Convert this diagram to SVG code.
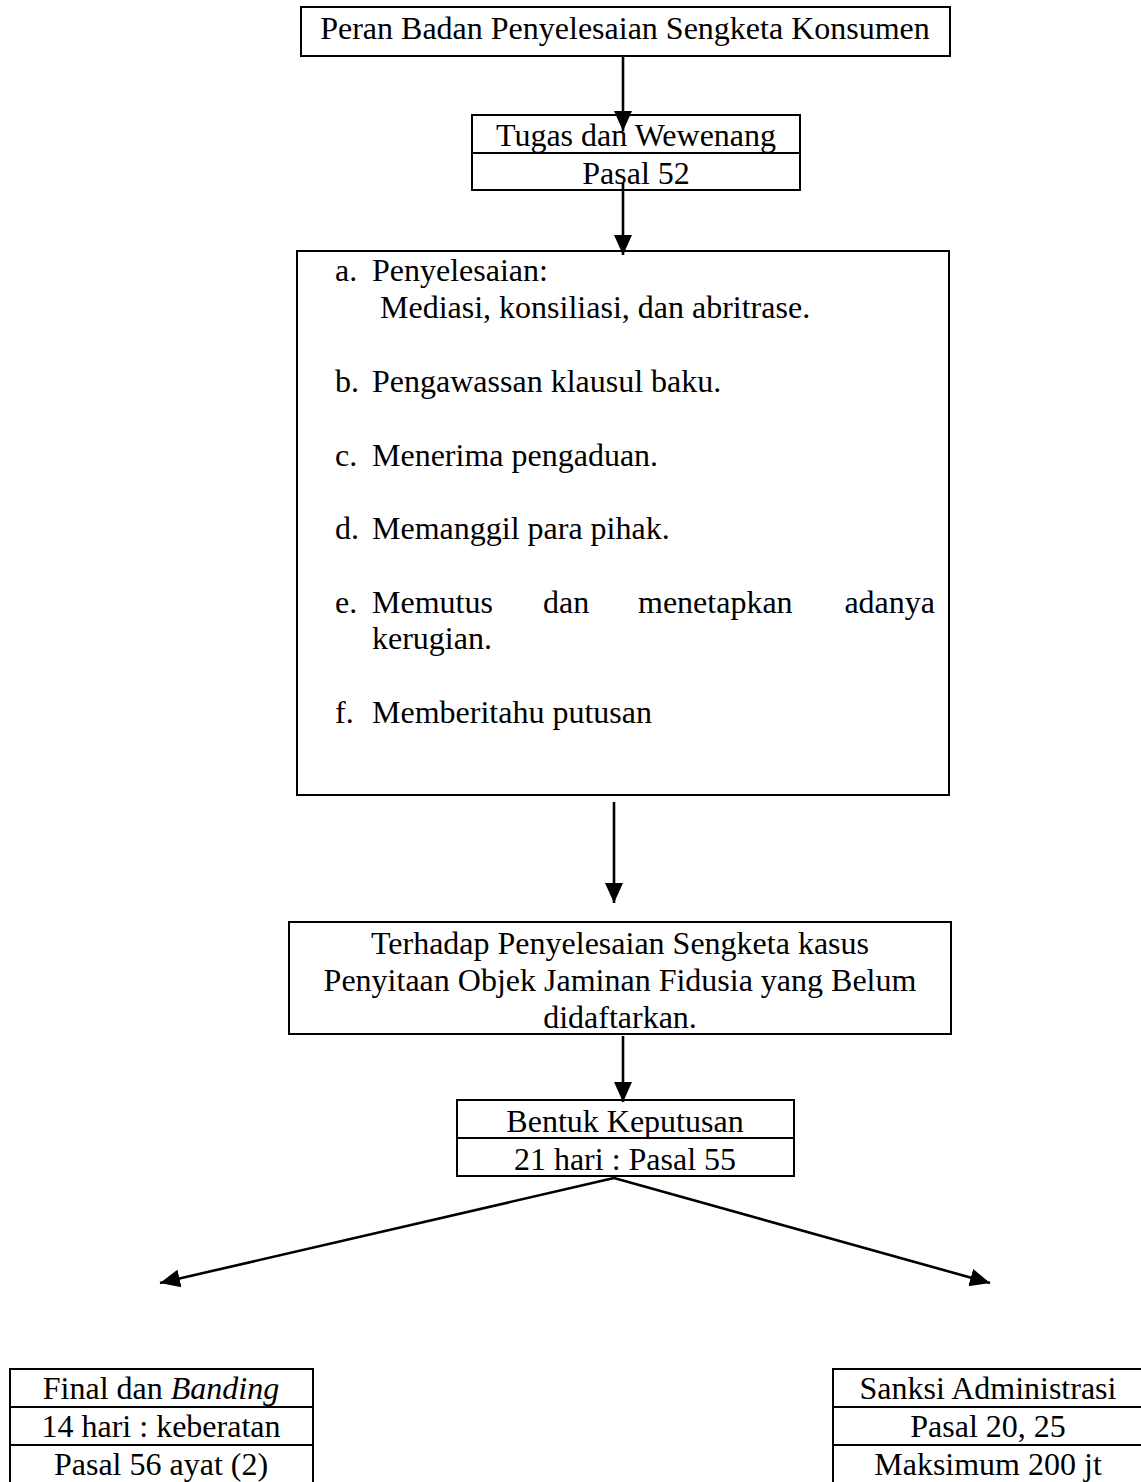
<svg xmlns="http://www.w3.org/2000/svg" width="1141" height="1482" viewBox="0 0 1141 1482">
<style>
.box{fill:#fff;stroke:#000;stroke-width:2}
.div{stroke:#000;stroke-width:2}
.t{font-family:"Liberation Serif","Times New Roman",serif;font-size:32px;fill:#000}
.c{text-anchor:middle}
.con{stroke:#000;stroke-width:2.6;fill:none}
</style>
<defs>
<marker id="ah" markerUnits="userSpaceOnUse" markerWidth="24" markerHeight="22" refX="20" refY="10" orient="auto">
<path d="M0,1 L20,10 L0,19 Z" fill="#000"/>
</marker>
</defs>
<rect width="1141" height="1482" fill="#fff"/>
<g id="n-peran">
<rect class="box" x="301" y="7" width="649" height="49"/>
<text class="t c" x="625" y="39">Peran Badan Penyelesaian Sengketa Konsumen</text>
</g>
<g id="n-tugas">
<rect class="box" x="472" y="115" width="328" height="75"/>
<line class="div" x1="472" y1="153" x2="800" y2="153"/>
<text class="t c" x="636" y="146">Tugas dan Wewenang</text>
<text class="t c" x="636" y="184">Pasal 52</text>
</g>
<g id="n-list">
<rect class="box" x="297" y="251" width="652" height="544"/>
<text class="t" x="335" y="281">a.</text>
<text class="t" x="372" y="281">Penyelesaian:</text>
<text class="t" x="380" y="318">Mediasi, konsiliasi, dan abritrase.</text>
<text class="t" x="335" y="392">b.</text>
<text class="t" x="372" y="392">Pengawassan klausul baku.</text>
<text class="t" x="335" y="466">c.</text>
<text class="t" x="372" y="466">Menerima pengaduan.</text>
<text class="t" x="335" y="539">d.</text>
<text class="t" x="372" y="539">Memanggil para pihak.</text>
<text class="t" x="335" y="613">e.</text>
<text class="t" x="372" y="613">Memutus</text>
<text class="t" x="543" y="613">dan</text>
<text class="t" x="638" y="613">menetapkan</text>
<text class="t" x="935" y="613" text-anchor="end">adanya</text>
<text class="t" x="372" y="649">kerugian.</text>
<text class="t" x="335" y="723">f.</text>
<text class="t" x="372" y="723">Memberitahu putusan</text>
</g>
<g id="n-terhadap">
<rect class="box" x="289" y="922" width="662" height="112"/>
<text class="t c" x="620" y="954">Terhadap Penyelesaian Sengketa kasus</text>
<text class="t c" x="620" y="991">Penyitaan Objek Jaminan Fidusia yang Belum</text>
<text class="t c" x="620" y="1028">didaftarkan.</text>
</g>
<g id="n-bentuk">
<rect class="box" x="457" y="1100" width="337" height="76"/>
<line class="div" x1="457" y1="1138" x2="794" y2="1138"/>
<text class="t c" x="625" y="1132">Bentuk Keputusan</text>
<text class="t c" x="625" y="1170">21 hari : Pasal 55</text>
</g>
<g id="n-final">
<rect class="box" x="10" y="1369" width="303" height="120"/>
<line class="div" x1="10" y1="1407" x2="313" y2="1407"/>
<line class="div" x1="10" y1="1445" x2="313" y2="1445"/>
<text class="t c" x="161" y="1399">Final dan <tspan font-style="italic">Banding</tspan></text>
<text class="t c" x="161" y="1437">14 hari : keberatan</text>
<text class="t c" x="161" y="1475">Pasal 56 ayat (2)</text>
</g>
<g id="n-sanksi">
<rect class="box" x="833" y="1369" width="320" height="120"/>
<line class="div" x1="833" y1="1407" x2="1141" y2="1407"/>
<line class="div" x1="833" y1="1445" x2="1141" y2="1445"/>
<text class="t c" x="988" y="1399">Sanksi Administrasi</text>
<text class="t c" x="988" y="1437">Pasal 20, 25</text>
<text class="t c" x="988" y="1475">Maksimum 200 jt</text>
</g>
<g id="connectors">
<line class="con" x1="623" y1="57" x2="623" y2="131" marker-end="url(#ah)"/>
<line class="con" x1="623" y1="183" x2="623" y2="255" marker-end="url(#ah)"/>
<line class="con" x1="614" y1="802" x2="614" y2="903" marker-end="url(#ah)"/>
<line class="con" x1="623" y1="1036" x2="623" y2="1102" marker-end="url(#ah)"/>
<line class="con" x1="614" y1="1178" x2="160" y2="1283" marker-end="url(#ah)"/>
<line class="con" x1="614" y1="1178" x2="990" y2="1283" marker-end="url(#ah)"/>
</g>
</svg>
